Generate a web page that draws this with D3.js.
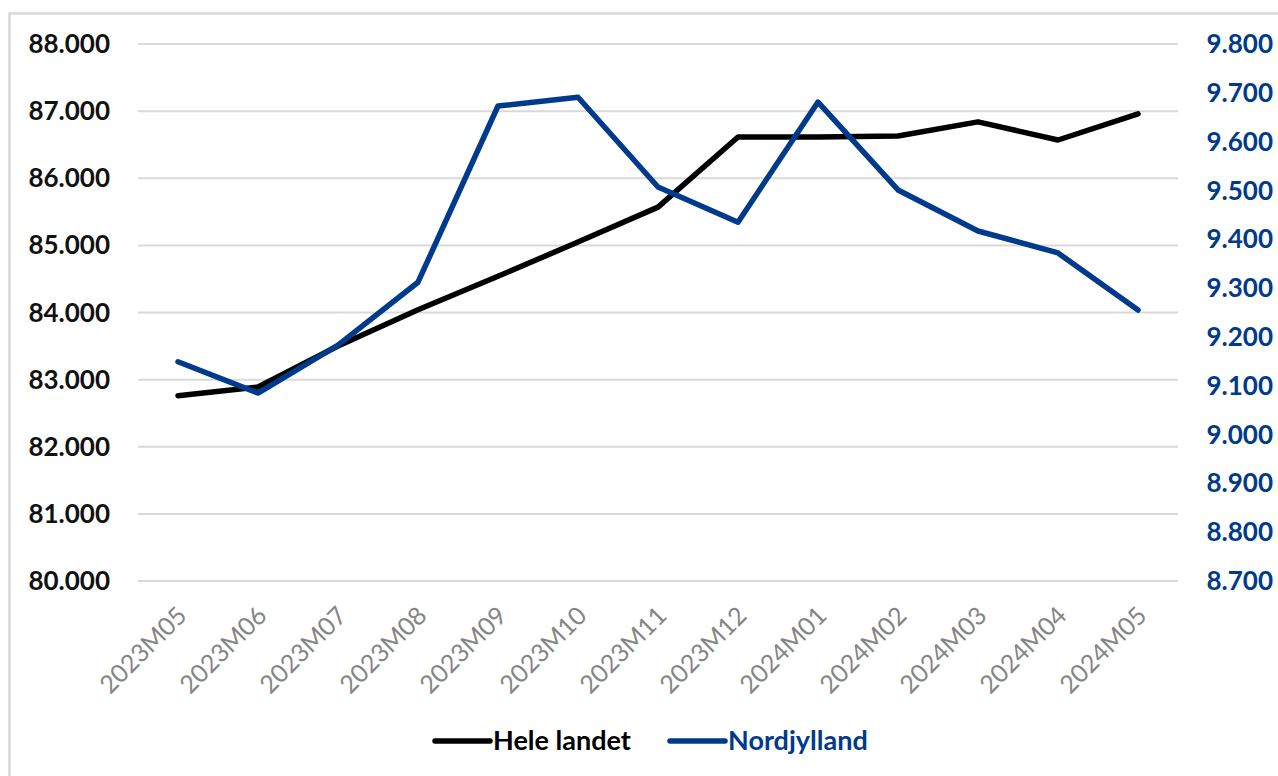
<!DOCTYPE html>
<html>
    <head>
        <script src="https://d3js.org/d3.v7.min.js"></script>
        <style>
            body{ margin:0; background:#fff; }
            text{ font-family:Lato, "Open Sans", sans-serif; }
        </style>
    </head>
    <body>
        <svg height="776" width="1278" id="chart"></svg>
        <script>
            // data
            let months=["2023M05","2023M06","2023M07","2023M08","2023M09","2023M10","2023M11",
                        "2023M12","2024M01","2024M02","2024M03","2024M04","2024M05"];
            let heleLandet=[82760,82890,83500,84040,84540,85050,85570,86615,86615,86630,86840,86570,86960];
            let nordjylland=[9149,9085,9183,9312,9673,9691,9507,9435,9681,9501,9417,9372,9255];
            let leftTicks=[80000,81000,82000,83000,84000,85000,86000,87000,88000];
            let rightTicks=[8700,8800,8900,9000,9100,9200,9300,9400,9500,9600,9700,9800];

            const blue="#003A8C";
            let svg=d3.select("#chart");

            // light frame round the chart
            svg.append("rect")
                .attr("x",9.5).attr("y",13.5)
                .attr("width",1300).attr("height",800)
                .style("fill","none")
                .style("stroke","#d9d9d9")
                .style("stroke-width",2.5);

            let plotLeft=138, plotRight=1178, plotTop=44, plotBottom=581;

            let x=d3.scalePoint().domain(months).range([plotLeft,plotRight]).padding(0.5);
            let yLeft=d3.scaleLinear().domain([80000,88000]).range([plotBottom,plotTop]);
            let yRight=d3.scaleLinear().domain([8700,9800]).range([plotBottom,plotTop]);

            let fmt=v=>d3.format(".3f")(v/1000);

            // gridlines
            svg.append("g").selectAll("line").data(leftTicks).join("line")
                .attr("x1",plotLeft).attr("x2",plotRight)
                .attr("y1",d=>yLeft(d)).attr("y2",d=>yLeft(d))
                .style("stroke","#d9d9d9")
                .style("stroke-width",2);

            // left axis labels
            svg.append("g").selectAll("text").data(leftTicks).join("text")
                .attr("x",110).attr("y",d=>yLeft(d))
                .attr("dy","0.35em")
                .attr("text-anchor","end")
                .style("font-size","26px")
                .style("font-weight","bold")
                .style("fill","#111")
                .text(fmt);

            // right axis labels
            svg.append("g").selectAll("text").data(rightTicks).join("text")
                .attr("x",1273).attr("y",d=>yRight(d))
                .attr("dy","0.35em")
                .attr("text-anchor","end")
                .style("font-size","26px")
                .style("font-weight","bold")
                .style("fill",blue)
                .text(fmt);

            // category labels
            svg.append("g").selectAll("text").data(months).join("text")
                .attr("transform",d=>"translate("+(x(d)+4)+","+(plotBottom+30)+") rotate(-45)")
                .attr("text-anchor","end")
                .attr("dy","0.35em")
                .style("font-size","25px")
                .style("fill","#858585")
                .text(d=>d);

            let lineLeft=d3.line().x((d,i)=>x(months[i])).y(d=>yLeft(d));
            let lineRight=d3.line().x((d,i)=>x(months[i])).y(d=>yRight(d));

            svg.append("path")
                .datum(heleLandet)
                .attr("d",lineLeft)
                .style("fill","none")
                .style("stroke","#000")
                .style("stroke-width",5.5)
                .style("stroke-linejoin","round")
                .style("stroke-linecap","round");

            svg.append("path")
                .datum(nordjylland)
                .attr("d",lineRight)
                .style("fill","none")
                .style("stroke",blue)
                .style("stroke-width",5.5)
                .style("stroke-linejoin","round")
                .style("stroke-linecap","round");

            // legend
            let legend=[{name:"Hele landet",color:"#000",x0:435},{name:"Nordjylland",color:blue,x0:670}];
            let lg=svg.append("g").selectAll("g").data(legend).join("g")
                .attr("transform",d=>"translate("+d.x0+",741)");
            lg.append("line")
                .attr("x1",0).attr("x2",55)
                .style("stroke",d=>d.color)
                .style("stroke-width",5.5)
                .style("stroke-linecap","round");
            lg.append("text")
                .attr("x",58)
                .attr("dy","0.35em")
                .style("font-size","27px")
                .style("font-weight","bold")
                .style("fill",d=>d.color)
                .text(d=>d.name);
        </script>
    </body>
</html>
